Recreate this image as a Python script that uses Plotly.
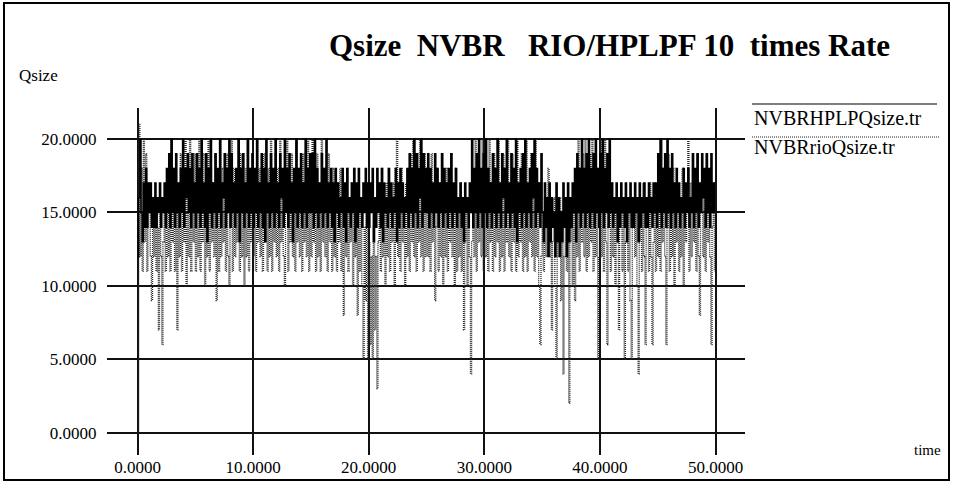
import numpy as np
import plotly.graph_objects as go

# Queue-size samples, one every 0.1 s from t = 0 to t = 49.9 (each row = 5 s)
SAMPLE_STEP = 0.1

hplp_qsize = [
    12, 16, 20, 15, 13, 17, 14, 18, 14, 17, 15, 17, 14, 16, 14, 17, 14, 16, 15, 17, 14, 16, 15, 17, 14,
    18, 15, 19, 14, 20, 15, 18, 14, 19, 15, 17, 14, 18, 15, 20, 14, 18, 16, 19, 15, 18, 14, 19, 15, 17,
    14, 19, 15, 18, 14, 20, 15, 17, 14, 19, 13, 18, 15, 20, 14, 17, 15, 19, 14, 18, 15, 20, 14, 17, 16,
    19, 14, 18, 15, 20, 14, 19, 15, 17, 14, 18, 15, 20, 13, 18, 15, 19, 14, 17, 15, 20, 14, 18, 15, 19,
    14, 18, 15, 20, 14, 17, 15, 19, 14, 18, 13, 20, 15, 17, 14, 19, 15, 18, 14, 20, 15, 17, 14, 19, 16,
    18, 14, 20, 15, 18, 14, 19, 15, 17, 13, 18, 15, 20, 14, 18, 15, 19, 14, 17, 15, 20, 14, 18, 15, 19,
    15, 19, 14, 20, 15, 18, 14, 17, 15, 19, 14, 18, 15, 20, 14, 17, 15, 18, 14, 17, 13, 18, 15, 17, 14,
    16, 15, 18, 14, 17, 13, 18, 15, 16, 14, 17, 15, 18, 13, 17, 14, 18, 15, 16, 14, 17, 15, 18, 14, 17,
    14, 17, 15, 18, 13, 16, 14, 18, 15, 17, 14, 18, 13, 17, 15, 16, 14, 18, 15, 17, 14, 16, 15, 18, 13,
    17, 14, 18, 15, 17, 14, 16, 15, 18, 14, 19, 15, 18, 14, 20, 15, 19, 14, 18, 16, 20, 14, 19, 15, 18,
    15, 19, 14, 18, 15, 17, 14, 19, 15, 18, 14, 17, 15, 19, 14, 18, 15, 17, 14, 18, 15, 19, 14, 17, 15,
    18, 14, 16, 15, 17, 14, 16, 13, 17, 15, 16, 14, 17, 15, 20, 14, 18, 15, 19, 14, 20, 15, 18, 14, 19,
    15, 20, 14, 18, 15, 17, 14, 19, 15, 18, 14, 20, 15, 17, 14, 19, 16, 18, 14, 20, 15, 17, 14, 19, 15,
    18, 14, 20, 13, 17, 15, 18, 14, 19, 15, 20, 14, 17, 15, 18, 14, 19, 16, 20, 14, 18, 15, 17, 14, 19,
    15, 13, 17, 14, 16, 12, 17, 13, 16, 14, 15, 12, 17, 13, 16, 12, 15, 13, 17, 14, 16, 12, 17, 13, 16,
    14, 17, 15, 18, 13, 19, 15, 18, 14, 20, 15, 18, 14, 19, 15, 20, 14, 18, 15, 19, 14, 20, 15, 18, 14,
    19, 15, 20, 14, 18, 15, 19, 14, 20, 15, 17, 14, 16, 15, 17, 13, 16, 14, 17, 15, 16, 14, 17, 13, 16,
    15, 17, 14, 16, 14, 17, 15, 16, 13, 17, 14, 16, 15, 17, 14, 16, 14, 17, 15, 16, 14, 17, 15, 17, 14,
    19, 15, 20, 14, 18, 15, 19, 14, 20, 15, 18, 14, 19, 15, 17, 14, 18, 15, 17, 14, 16, 15, 18, 14, 17,
    15, 18, 14, 16, 15, 19, 14, 18, 15, 19, 14, 17, 15, 19, 16, 18, 14, 19, 15, 18, 14, 19, 15, 17, 15,
]

rio_qsize = [
    0, 21, 12, 18, 11, 20, 13, 19, 11, 17, 16, 12, 9, 15, 12, 16, 11, 14, 7, 15, 12, 6, 13, 16, 11,
    17, 12, 19, 11, 20, 13, 18, 11, 17, 7, 16, 12, 19, 11, 18, 13, 20, 10, 17, 12, 20, 11, 18, 13, 19,
    11, 18, 12, 20, 11, 17, 13, 19, 10, 16, 12, 20, 11, 18, 13, 17, 12, 19, 9, 16, 11, 20, 12, 18, 13,
    17, 11, 19, 12, 10, 17, 20, 11, 18, 12, 16, 13, 20, 11, 19, 12, 17, 10, 18, 12, 20, 11, 17, 13, 19,
    12, 17, 11, 20, 13, 18, 12, 16, 11, 19, 13, 17, 11, 18, 12, 20, 11, 17, 13, 19, 12, 18, 11, 20, 13,
    16, 12, 10, 15, 20, 11, 18, 13, 19, 12, 17, 11, 20, 13, 18, 12, 16, 11, 19, 13, 17, 12, 20, 11, 18,
    12, 20, 13, 18, 11, 19, 12, 17, 11, 20, 13, 18, 12, 16, 11, 19, 13, 17, 11, 18, 12, 16, 11, 17, 13,
    18, 11, 16, 8, 17, 12, 18, 11, 16, 13, 17, 10, 18, 12, 16, 8, 17, 11, 15, 10, 5, 14, 9, 16, 5,
    13, 6, 12, 5, 14, 7, 12, 3, 13, 17, 11, 18, 12, 16, 10, 17, 12, 18, 11, 16, 13, 17, 10, 18, 20,
    12, 17, 11, 18, 13, 16, 10, 17, 12, 18, 11, 19, 13, 20, 12, 18, 11, 19, 13, 20, 12, 17, 11, 19, 12,
    18, 12, 17, 11, 19, 13, 16, 9, 14, 18, 11, 17, 12, 19, 10, 16, 12, 18, 11, 17, 13, 19, 12, 16, 10,
    18, 11, 16, 12, 17, 11, 15, 7, 13, 16, 10, 14, 12, 4, 13, 17, 12, 20, 11, 19, 13, 18, 12, 20, 11,
    19, 12, 18, 11, 20, 13, 17, 11, 19, 12, 18, 13, 20, 11, 17, 12, 19, 11, 18, 13, 20, 12, 16, 11, 19,
    13, 18, 11, 20, 12, 17, 13, 19, 11, 18, 12, 20, 11, 17, 13, 19, 12, 18, 11, 20, 12, 17, 10, 6, 12,
    15, 11, 16, 12, 14, 18, 12, 15, 7, 13, 16, 10, 5, 14, 12, 16, 9, 15, 4, 12, 16, 11, 14, 2, 13,
    15, 10, 17, 9, 17, 12, 20, 11, 18, 13, 19, 12, 20, 11, 18, 12, 19, 13, 20, 11, 17, 12, 18, 5, 12,
    20, 12, 19, 11, 20, 13, 6, 14, 18, 11, 17, 12, 16, 10, 15, 13, 7, 14, 16, 11, 15, 5, 13, 16, 11,
    15, 9, 5, 14, 16, 12, 15, 10, 4, 13, 16, 11, 17, 12, 6, 14, 16, 11, 17, 12, 6, 13, 17, 11, 15,
    12, 17, 11, 20, 13, 18, 12, 6, 14, 19, 11, 17, 12, 18, 10, 16, 13, 17, 11, 15, 12, 18, 10, 17, 13,
    16, 20, 11, 17, 12, 18, 13, 16, 11, 19, 12, 8, 15, 18, 12, 17, 11, 19, 13, 16, 12, 6, 14, 17, 11,
]

x_ticks = [0, 10, 20, 30, 40, 50]
y_ticks = [0, 5, 10, 15, 20]

legend_names = ["NVBRHPLPQsize.tr", "NVBRrioQsize.tr"]
chart_title = "Qsize\u00a0\u00a0NVBR\u00a0\u00a0\u00a0RIO/HPLPF 10\u00a0\u00a0times Rate"

t_hplp = np.arange(len(hplp_qsize)) * SAMPLE_STEP
t_rio = np.arange(len(rio_qsize)) * SAMPLE_STEP

SERIF = "Liberation Serif"
RIO_COLOR = "#222222"

fig = go.Figure()
fig.add_trace(go.Scatter(
    x=t_rio, y=rio_qsize, mode="lines", line_shape="hv",
    line=dict(color=RIO_COLOR, width=1.3, dash="1px,1px"),
    name=legend_names[1], hoverinfo="skip",
))
fig.add_trace(go.Scatter(
    x=t_hplp, y=hplp_qsize, mode="lines", line_shape="hv",
    line=dict(color="#000000", width=1.5),
    name=legend_names[0], hoverinfo="skip",
))

# Plot area spans pixels 107..745 horizontally and 108..455 vertically
fig.update_layout(
    width=953, height=485,
    margin=dict(l=107, r=208, t=108, b=30),
    paper_bgcolor="white", plot_bgcolor="white",
    showlegend=False,
    font=dict(family=SERIF, color="black"),
)
fig.update_xaxes(
    range=[-2.64, 52.55], tickvals=x_ticks, tickformat=".4f",
    showgrid=True, gridcolor="#111111", gridwidth=1.5,
    zeroline=False, showline=False, automargin=False,
    ticks="",
    tickfont=dict(family=SERIF, size=17, color="black"),
)
fig.update_yaxes(
    range=[-1.53, 22.12], tickvals=y_ticks, tickformat=".4f",
    showgrid=True, gridcolor="#111111", gridwidth=1.5,
    zeroline=False, showline=False, automargin=False,
    ticks="outside", ticklen=6, tickcolor="rgba(0,0,0,0)",
    tickfont=dict(family=SERIF, size=17, color="black"),
)

def px_x(p):
    return (p - 107) / 638.0

def px_y(p):
    return (455 - p) / 347.0

shapes = [
    # outer frame
    dict(type="rect", xref="paper", yref="paper",
         x0=px_x(4), x1=px_x(949), y0=px_y(480), y1=px_y(3),
         line=dict(color="black", width=2)),
    # legend keys
    dict(type="line", xref="paper", yref="paper",
         x0=px_x(752), x1=px_x(937), y0=px_y(104), y1=px_y(104),
         line=dict(color="black", width=1.2)),
    dict(type="line", xref="paper", yref="paper",
         x0=px_x(752), x1=px_x(940), y0=px_y(137), y1=px_y(137),
         line=dict(color=RIO_COLOR, width=1.2, dash="1px,1px")),
]
fig.update_layout(shapes=shapes)

annotations = [
    dict(text="<b>" + chart_title + "</b>", x=px_x(609), y=px_y(46),
         font=dict(family=SERIF, size=31, color="black")),
    dict(text="Qsize", x=px_x(17), y=px_y(75), xanchor="left",
         font=dict(family=SERIF, size=17, color="black")),
    dict(text=legend_names[0], x=px_x(752), y=px_y(118), xanchor="left",
         font=dict(family=SERIF, size=20, color="black")),
    dict(text=legend_names[1], x=px_x(752), y=px_y(147), xanchor="left",
         font=dict(family=SERIF, size=20, color="black")),
    dict(text="time", x=px_x(927), y=px_y(450),
         font=dict(family=SERIF, size=15, color="black")),
]
for a in annotations:
    a.update(xref="paper", yref="paper", showarrow=False)
    a.setdefault("xanchor", "center")
    a["yanchor"] = "middle"
fig.update_layout(annotations=annotations)

fig.write_html("out.html")
